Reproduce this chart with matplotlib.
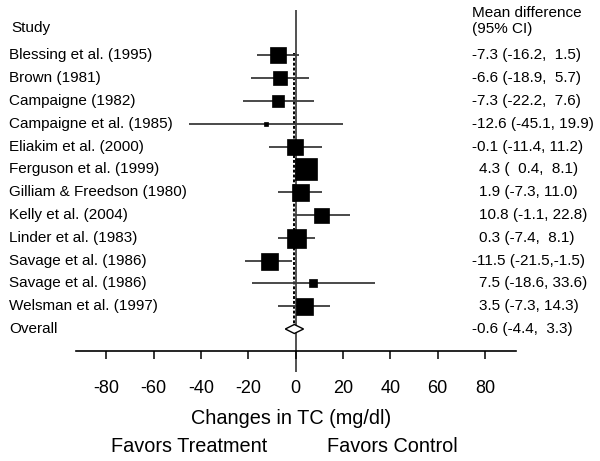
import matplotlib
matplotlib.use("Agg")
import matplotlib.pyplot as plt
from matplotlib.transforms import blended_transform_factory
from matplotlib.patches import Polygon

plt.rcParams['font.family'] = ['Liberation Sans', 'DejaVu Sans']

studies = ["Blessing et al. (1995)", "Brown (1981)", "Campaigne (1982)",
           "Campaigne et al. (1985)", "Eliakim et al. (2000)", "Ferguson et al. (1999)",
           "Gilliam & Freedson (1980)", "Kelly et al. (2004)", "Linder et al. (1983)",
           "Savage et al. (1986)", "Savage et al. (1986)", "Welsman et al. (1997)"]
est = [-7.3, -6.6, -7.3, -12.6, -0.1, 4.3, 1.9, 10.8, 0.3, -11.5, 7.5, 3.5]
lo = [-16.2, -18.9, -22.2, -45.1, -11.4, 0.4, -7.3, -1.1, -7.4, -21.5, -18.6, -7.3]
hi = [1.5, 5.7, 7.6, 19.9, 11.2, 8.1, 11.0, 22.8, 8.1, -1.5, 33.6, 14.3]
# box size (study weight), read as square side in pixels
weight = [16, 14, 12, 5, 16, 23, 17, 15, 19, 17, 8, 17]
ci_text = ["-7.3 (-16.2,  1.5)", "-6.6 (-18.9,  5.7)", "-7.3 (-22.2,  7.6)",
           "-12.6 (-45.1, 19.9)", "-0.1 (-11.4, 11.2)", "4.3 (  0.4,  8.1)",
           "1.9 (-7.3, 11.0)", "10.8 (-1.1, 22.8)", "0.3 (-7.4,  8.1)",
           "-11.5 (-21.5,-1.5)", "7.5 (-18.6, 33.6)", "3.5 (-7.3, 14.3)"]
overall_label = "Overall"
overall_est, overall_lo, overall_hi = -0.6, -4.4, 3.3
overall_text = "-0.6 (-4.4,  3.3)"
xticks = [-80, -60, -40, -20, 0, 20, 40, 60, 80]

W, H = 600, 461
fig = plt.figure(figsize=(6, 4.61), dpi=100)
ax = fig.add_axes([75.7 / W, (H - 351) / H, (516 - 75.7) / W, 351 / H])

row0, step = 55.4, 22.8
ax.set_xlim(-93.0, 93.1)
ax.set_ylim((351 - row0) / step, (0 - row0) / step)

n = len(studies)
rows = list(range(n))
# reference lines
ax.vlines(0, (10 - row0) / step, (372 - row0) / step, color='#222222', lw=1.1,
          clip_on=False, zorder=1)
ax.vlines(overall_est, -0.1, n, color='black', lw=1.4, linestyles=(0, (1.5, 1)),
          zorder=2)

for i in rows:
    ax.plot([lo[i], hi[i]], [i, i], color='#3a3a3a', lw=1.3, zorder=3,
            solid_capstyle='butt')
    ax.plot(est[i], i, marker='s', ms=weight[i] * 0.72, color='black',
            mec='black', mew=0.5, zorder=4)

# overall diamond
dh = 4.5 / step
ax.add_patch(Polygon([[overall_lo, n], [overall_est, n - dh], [overall_hi, n],
                      [overall_est, n + dh]], closed=True, facecolor='white',
                     edgecolor='black', lw=1.0, zorder=5))

for s in ['top', 'left', 'right']:
    ax.spines[s].set_visible(False)
ax.spines['bottom'].set_linewidth(1.2)
ax.set_yticks([])
ax.set_xticks(xticks)
ax.set_xticklabels([str(t) for t in xticks])
ax.tick_params(axis='x', direction='out', length=5.8, width=1.1, pad=15,
               labelsize=13)
ax.set_xlabel("Changes in TC (mg/dl)", fontsize=14.3)
ax.xaxis.set_label_coords((291 - 75.7) / (516 - 75.7), (351 - 418.5) / 351)
ax.xaxis.label.set_va('center')

tr = blended_transform_factory(fig.transFigure, ax.transData)
fs = 11
ax.text(11 / W, (28 - row0) / step, "Study", transform=tr, fontsize=fs,
        va='center', ha='left')
for i in rows:
    ax.text(9 / W, i, studies[i], transform=tr, fontsize=fs, va='center', ha='left')
    xr = 471.7 if est[i] < 0 else 479
    ax.text(xr / W, i, ci_text[i], transform=tr, fontsize=fs, va='center', ha='left')
ax.text(9 / W, n, overall_label, transform=tr, fontsize=fs, va='center', ha='left')
ax.text(471.7 / W, n, overall_text, transform=tr, fontsize=fs, va='center', ha='left')
ax.text(471.7 / W, (13.3 - row0) / step, "Mean difference", transform=tr,
        fontsize=fs, va='center', ha='left')
ax.text(471.7 / W, (29.3 - row0) / step, "(95% CI)", transform=tr,
        fontsize=fs, va='center', ha='left')

fig.text(188.7 / W, (H - 446.5) / H, "Favors Treatment", fontsize=14.3,
         ha='center', va='center')
fig.text(392 / W, (H - 446.5) / H, "Favors Control", fontsize=14.3,
         ha='center', va='center')

fig.savefig("out.png", dpi=100)
